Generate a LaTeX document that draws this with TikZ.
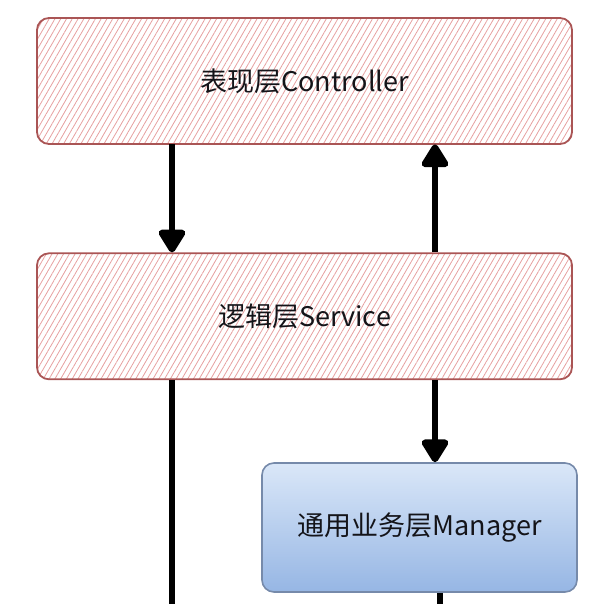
\documentclass[tikz,border=0pt]{standalone}
\usepackage{fontspec}
\setmainfont{Noto Sans CJK SC}
\usetikzlibrary{arrows.meta,positioning,patterns.meta}
\definecolor{hatchred}{RGB}{230,160,160}
\definecolor{edgered}{RGB}{170,85,85}
\definecolor{topblue}{RGB}{218,231,248}
\definecolor{botblue}{RGB}{150,182,228}
\definecolor{edgeblue}{RGB}{118,138,170}
\definecolor{inkdark}{RGB}{20,20,25}

\begin{document}
\begin{tikzpicture}[x=1pt,y=-1pt,
		layer node/.style={rectangle,rounded corners=12pt,draw=edgered,line width=1.8pt,
			pattern={Lines[angle=60,distance=5pt,line width=0.8pt]},pattern color=hatchred,
			minimum width=535pt,minimum height=126pt,text=inkdark,
			font=\fontsize{27}{32}\selectfont},
		manager node/.style={rectangle,rounded corners=12pt,draw=edgeblue,line width=1.6pt,
			top color=topblue,bottom color=botblue,
			minimum width=315pt,minimum height=129pt,text=inkdark,
			font=\fontsize{27}{32}\selectfont},
		flow/.style={line width=6.5pt,-{Triangle[length=26pt,width=30pt,round]}},
		wire/.style={line width=6.5pt}]
	
	\useasboundingbox (0,0) rectangle (604,604);
	
	\node[layer node] (ctrl) at (304.5,81) {表现层Controller};
	\node[layer node] (svc) [below=108pt of ctrl] {逻辑层Service};
	\node[manager node] (mgr) at (419.5,527.5) {通用业务层Manager};
	
	% columns of the connectors
	\coordinate (colA) at (172,0);
	\coordinate (colB) at (435,0);
	\coordinate (endA) at (172,604);
	\coordinate (endB) at (440,604);
	
	\draw[flow] (ctrl.south -| colA) -- (svc.north -| colA);
	\draw[flow] (svc.north -| colB) -- (ctrl.south -| colB);
	\draw[flow] (svc.south -| colB) -- (mgr.north -| colB);
	\draw[wire] (svc.south -| colA) -- (endA);
	\draw[wire] (mgr.south -| endB) -- (endB);
\end{tikzpicture}
\end{document}
